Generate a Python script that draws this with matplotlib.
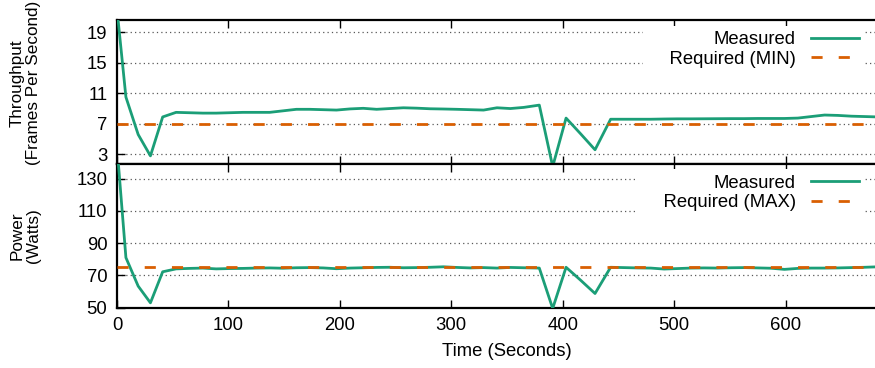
import matplotlib
matplotlib.use('Agg')
import matplotlib.pyplot as plt

plt.rcParams['font.family'] = ['Liberation Sans', 'DejaVu Sans']

# sampled times (seconds)
time_s = [0, 8, 19, 30, 41, 53, 65, 77, 89, 101, 113, 125, 137, 149, 161,
          173, 185, 197, 209, 221, 233, 245, 257, 269, 281, 293, 305, 317,
          329, 341, 353, 365, 379, 391, 403, 416, 429, 443, 455, 467, 479,
          491, 503, 515, 527, 539, 551, 563, 575, 587, 599, 611, 623, 635,
          647, 659, 671, 683]

fps_measured = [22.0, 10.5, 5.6, 2.8, 7.9, 8.5, 8.45, 8.4, 8.4, 8.45, 8.5,
                8.5, 8.5, 8.7, 8.9, 8.9, 8.85, 8.8, 8.95, 9.03, 8.9, 9.0,
                9.1, 9.05, 8.97, 8.94, 8.9, 8.85, 8.8, 9.1, 9.0, 9.15, 9.45,
                1.4, 7.75, 5.7, 3.6, 7.6, 7.6, 7.6, 7.6, 7.63, 7.65, 7.65,
                7.66, 7.67, 7.68, 7.68, 7.7, 7.7, 7.7, 7.75, 7.95, 8.15,
                8.1, 8.0, 7.95, 7.9]
fps_required = 7

power_measured = [150, 81, 63.3, 52.9, 72.2, 74.0, 74.3, 74.5, 74.0, 74.2,
                  74.3, 74.5, 74.6, 74.4, 74.7, 74.8, 74.6, 74.1, 74.5, 74.7,
                  74.9, 75.0, 74.7, 74.8, 75.0, 75.3, 74.9, 74.6, 74.8, 74.5,
                  74.9, 74.7, 74.5, 49.4, 75.0, 67.0, 58.7, 75.0, 74.8, 74.6,
                  74.5, 73.9, 74.2, 74.5, 74.6, 74.5, 74.7, 74.8, 74.6, 74.4,
                  73.7, 74.3, 74.5, 74.5, 74.6, 74.8, 75.0, 75.3]
power_required = 75

fps_ticks = [3, 7, 11, 15, 19]
power_ticks = [50, 70, 90, 110, 130]
time_ticks = [0, 100, 200, 300, 400, 500, 600]

GREEN = '#1b9e77'
ORANGE = '#d95f02'
FS = 13.3
LABEL_FS = 12.3

fig = plt.figure(figsize=(8.75, 3.68), dpi=100)
left = 117 / 875
width = (897 - 117) / 875
ax1 = fig.add_axes([left, 1 - 163.5 / 368, width, 143.5 / 368])
ax2 = fig.add_axes([left, 1 - 307.5 / 368, width, 144 / 368])


def style(ax, yticks, ylim):
    ax.set_xlim(0, 700)
    ax.set_ylim(*ylim)
    ax.set_yticks(yticks)
    ax.set_xticks(time_ticks)
    ax.tick_params(direction='in', length=6, width=1, top=True, right=True,
                   labelsize=FS, pad=7, colors='black')
    ax.grid(axis='y', color='0.35', linestyle=(0, (1, 2.5)), linewidth=0.9)
    ax.set_axisbelow(True)
    for sp in ax.spines.values():
        sp.set_linewidth(1.6)


ax1.plot(time_s, fps_measured, color=GREEN, lw=2, label='Measured', zorder=3)
ax1.axhline(fps_required, color=ORANGE, lw=2, dashes=(4, 5.8),
            label='    Required (MIN)', zorder=3)
style(ax1, fps_ticks, (1.8, 20.6))
ax1.tick_params(labelbottom=False)
ax1.set_ylabel('Throughput\n(Frames Per Second)', fontsize=LABEL_FS,
               linespacing=1.15)
ax1.yaxis.set_label_coords(-0.097, 0.56)

ax2.plot(time_s, power_measured, color=GREEN, lw=2, label='Measured', zorder=3)
ax2.axhline(power_required, color=ORANGE, lw=2, dashes=(4, 5.8),
            label='    Required (MAX)', zorder=3)
style(ax2, power_ticks, (50, 139.5))
ax2.set_ylabel('Power\n(Watts)', fontsize=LABEL_FS, linespacing=1.15)
ax2.yaxis.set_label_coords(-0.097, 0.5)
ax2.set_xlabel('Time (Seconds)', fontsize=FS, labelpad=6)

for ax in (ax1, ax2):
    leg = ax.legend(loc='upper right', bbox_to_anchor=(0.965, 1.0),
                    markerfirst=False, fontsize=FS, frameon=True,
                    facecolor='white', edgecolor='none', framealpha=1,
                    fancybox=False, handlelength=2.6, handletextpad=0.8,
                    labelspacing=0.15, borderpad=0.3, borderaxespad=0.3)

fig.savefig('out.png', dpi=100)
